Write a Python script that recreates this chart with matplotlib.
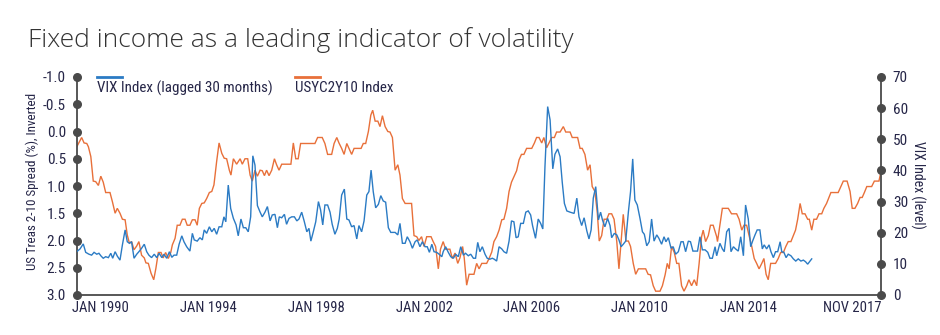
import matplotlib
matplotlib.use("Agg")
import matplotlib.pyplot as plt
from matplotlib.lines import Line2D

# ---------------- data ----------------
# USYC2Y10 Index (US Treasury 2-10 spread, %, plotted inverted on the left axis)
spread_dates = [
    1989.14, 1989.32, 1989.41, 1989.51, 1989.57, 1989.66, 1989.75, 1989.84, 1989.94,
    1990.03, 1990.12, 1990.21, 1990.37, 1990.46, 1990.56, 1990.64, 1990.74, 1990.83, 1990.93,
    1991.01, 1991.09, 1991.17, 1991.26, 1991.36, 1991.44, 1991.54, 1991.64, 1991.70, 1991.79, 1991.89, 1991.99,
    1992.07, 1992.16, 1992.26, 1992.34, 1992.43, 1992.53, 1992.62, 1992.68, 1992.78, 1992.86, 1992.96,
    1993.05, 1993.15, 1993.23, 1993.33, 1993.42, 1993.52, 1993.60, 1993.68, 1993.77, 1993.86, 1993.95,
    1994.05, 1994.14, 1994.22, 1994.32, 1994.41, 1994.51, 1994.60, 1994.69, 1994.79, 1994.85, 1994.94,
    1995.06, 1995.19, 1995.27, 1995.37, 1995.47, 1995.56, 1995.64, 1995.74, 1995.83, 1995.93,
    1996.01, 1996.09, 1996.17, 1996.26, 1996.36, 1996.46, 1996.54, 1996.63, 1996.73,
    1997.07, 1997.16, 1997.25, 1997.34, 1997.43, 1997.96,
    1998.06, 1998.23, 1998.33, 1998.43, 1998.58, 1998.67, 1998.77, 1998.85, 1998.95,
    1999.04, 1999.14, 1999.22, 1999.32, 1999.41, 1999.67, 1999.75, 1999.84, 1999.94,
    2000.03, 2000.10, 2000.19, 2000.29, 2000.37, 2000.46, 2000.56, 2000.66, 2000.74, 2000.83, 2000.93,
    2001.03, 2001.11, 2001.20, 2001.30, 2001.54, 2001.63, 2001.73, 2001.81, 2001.91,
    2002.00, 2002.10, 2002.26, 2002.34, 2002.43, 2002.53, 2002.61, 2002.71, 2002.80, 2002.96,
    2003.05, 2003.15, 2003.25, 2003.33, 2003.43, 2003.49, 2003.58, 2003.67, 2003.85, 2003.95,
    2004.04, 2004.14, 2004.32, 2004.42, 2004.51, 2004.59, 2004.69, 2004.78, 2004.88, 2004.96,
    2005.06, 2005.15, 2005.24, 2005.33, 2005.43, 2005.52, 2005.61, 2005.70, 2005.80, 2005.99,
    2006.09, 2006.17, 2006.26, 2006.36, 2006.44, 2006.54, 2006.63, 2006.73, 2006.83, 2006.91,
    2007.04, 2007.16, 2007.25, 2007.41, 2007.49, 2007.69, 2007.78, 2007.86, 2007.96,
    2008.06, 2008.15, 2008.23, 2008.33, 2008.42, 2008.49, 2008.58, 2008.67, 2008.77, 2008.85, 2008.95,
    2009.04, 2009.14, 2009.22, 2009.30, 2009.38, 2009.48, 2009.57, 2009.65, 2009.75, 2009.84, 2009.94,
    2010.21, 2010.30, 2010.39, 2010.49, 2010.58, 2010.74, 2010.83, 2010.93,
    2011.01, 2011.08, 2011.17, 2011.27, 2011.36, 2011.44, 2011.54, 2011.63, 2011.73, 2011.81, 2011.91,
    2012.01, 2012.10, 2012.19, 2012.28, 2012.34, 2012.43, 2012.53, 2012.61, 2012.71, 2012.84, 2012.87, 2012.96,
    2013.05, 2013.27, 2013.39, 2013.58, 2013.67, 2013.77, 2013.85, 2013.95,
    2014.04, 2014.14, 2014.23, 2014.32, 2014.41, 2014.51, 2014.59, 2014.67, 2014.75, 2014.84,
    2015.02, 2015.12, 2015.21, 2015.31, 2015.40, 2015.49, 2015.59, 2015.68, 2015.76, 2015.84, 2015.93,
    2016.01, 2016.11, 2016.21, 2016.27, 2016.36, 2016.44, 2016.54, 2016.63, 2016.73, 2016.81, 2016.91,
    2017.00, 2017.07, 2017.34, 2017.44, 2017.53, 2017.67, 2017.78, 2017.86, 2017.96,
    2018.06, 2018.15, 2018.23, 2018.31, 2018.40, 2018.58, 2018.68, 2018.85, 2018.91,
]
spread_values = [
    0.28, 0.11, 0.21, 0.22, 0.28, 0.46, 0.91, 0.92, 0.99,
    0.82, 0.93, 1.12, 1.12, 1.29, 1.50, 1.41, 1.50, 1.61, 1.62,
    1.90, 2.05, 2.02, 2.17, 2.10, 2.02, 2.27, 2.32, 2.41, 2.42, 2.60, 2.72,
    2.51, 2.22, 2.22, 2.32, 2.22, 2.33, 2.22, 2.08, 1.96, 1.72, 1.72,
    1.61, 1.61, 1.72, 1.72, 1.62, 1.62, 1.72, 1.41, 1.32, 1.31, 1.23,
    1.12, 1.10, 0.98, 0.55, 0.21, 0.40, 0.49, 0.50, 0.71, 0.80, 0.50,
    0.60, 0.50, 0.60, 0.50, 0.50, 0.80, 0.91, 0.71, 0.82, 0.71,
    0.72, 0.81, 0.71, 0.81, 0.71, 0.50, 0.61, 0.71, 0.60,
    0.60, 0.21, 0.50, 0.50, 0.22, 0.22,
    0.11, 0.11, 0.22, 0.42, 0.42, 0.22, 0.11, 0.21, 0.31,
    0.42, 0.22, 0.31, 0.42, 0.31, 0.31, 0.22, 0.22, 0.00,
    -0.30, -0.39, -0.19, -0.19, -0.09, -0.29, -0.09, 0.00, 0.01, 0.11, 0.71,
    0.61, 0.80, 1.23, 1.32, 1.32, 1.91, 1.93, 2.00, 1.93,
    2.11, 1.93, 1.93, 2.02, 2.11, 2.52, 2.16, 2.02, 2.16, 2.16,
    2.33, 2.23, 2.42, 2.32, 2.11, 2.32, 2.82, 2.62, 2.62, 2.42,
    2.52, 2.42, 2.42, 2.32, 2.21, 2.02, 1.93, 1.81, 1.62, 1.61,
    1.41, 1.10, 0.93, 0.83, 0.72, 0.52, 0.42, 0.42, 0.31, 0.31,
    0.21, 0.11, 0.11, 0.21, 0.11, 0.30, 0.21, 0.11, 0.11, 0.01,
    0.01, -0.09, 0.01, 0.01, 0.11, 0.11, 0.31, 0.31, 0.42,
    0.71, 0.61, 1.01, 1.10, 1.50, 2.01, 1.91, 1.61, 1.61, 1.51, 1.51,
    1.61, 2.02, 2.52, 2.02, 1.52, 2.01, 2.01, 2.11, 2.42, 2.62, 2.52,
    2.52, 2.62, 2.63, 2.83, 2.93, 2.93, 2.83, 2.63,
    2.42, 2.52, 2.11, 2.22, 2.42, 2.42, 2.83, 2.93, 2.83, 2.72, 2.83,
    2.72, 2.83, 2.42, 1.93, 1.81, 2.02, 1.91, 1.72, 1.72, 1.93, 2.02, 1.72,
    1.41, 1.41, 1.51, 1.51, 1.61, 1.81, 1.72, 1.72,
    1.91, 2.11, 2.33, 2.42, 2.52, 2.42, 2.33, 2.62, 2.72, 2.42,
    2.42, 2.33, 2.22, 2.22, 2.11, 2.02, 2.02, 1.91, 1.81, 1.61, 1.32,
    1.51, 1.51, 1.61, 1.61, 1.81, 1.61, 1.61, 1.51, 1.51, 1.41, 1.32,
    1.21, 1.12, 1.12, 1.01, 0.91, 0.91, 1.10, 1.41, 1.41,
    1.32, 1.21, 1.21, 1.12, 1.01, 1.01, 0.91, 0.91, 0.77,
]

# VIX Index, lagged 30 months (right axis)
vix_dates = [
    1989.14, 1989.26, 1989.38, 1989.47, 1989.59, 1989.69, 1989.78, 1989.88, 1989.96,
    1990.04, 1990.12, 1990.21, 1990.31, 1990.40, 1990.47, 1990.56, 1990.64, 1990.74, 1990.83, 1990.93,
    1991.01, 1991.09, 1991.17, 1991.26, 1991.36, 1991.44, 1991.54, 1991.64, 1991.73, 1991.81, 1991.91,
    1992.01, 1992.10, 1992.19, 1992.29, 1992.37, 1992.47, 1992.57, 1992.66, 1992.74, 1992.84, 1992.93,
    1993.03, 1993.11, 1993.21, 1993.33, 1993.42, 1993.49, 1993.60, 1993.70, 1993.79, 1993.86, 1993.95,
    1994.05, 1994.14, 1994.23, 1994.32, 1994.41, 1994.51, 1994.59, 1994.66, 1994.75, 1994.84, 1994.94,
    1995.04, 1995.12, 1995.22, 1995.31, 1995.40, 1995.49, 1995.58, 1995.66, 1995.74, 1995.83, 1995.93,
    1996.01, 1996.11, 1996.20, 1996.30, 1996.38, 1996.48, 1996.57, 1996.64, 1996.73, 1996.83, 1996.91,
    1997.00, 1997.10, 1997.20, 1997.29, 1997.37, 1997.47, 1997.56, 1997.66, 1997.74, 1997.81, 1997.90, 1997.99,
    1998.09, 1998.17, 1998.25, 1998.33, 1998.43, 1998.52, 1998.60, 1998.70, 1998.79, 1998.86, 1998.95,
    1999.05, 1999.14, 1999.22, 1999.32, 1999.41, 1999.51, 1999.59, 1999.69, 1999.78, 1999.88, 1999.96,
    2000.04, 2000.12, 2000.21, 2000.31, 2000.40, 2000.49, 2000.58, 2000.68, 2000.77, 2000.93,
    2001.03, 2001.11, 2001.20, 2001.30, 2001.38, 2001.48, 2001.57, 2001.67, 2001.75, 2001.85, 2001.94,
    2002.04, 2002.12, 2002.20, 2002.29, 2002.37, 2002.47, 2002.56, 2002.66, 2002.71, 2002.80, 2002.90, 2002.99,
    2003.09, 2003.17, 2003.27, 2003.36, 2003.46, 2003.54, 2003.64, 2003.73, 2003.83, 2003.91, 2003.99,
    2004.07, 2004.16, 2004.26, 2004.34, 2004.44, 2004.53, 2004.60, 2004.69, 2004.78, 2004.88, 2004.96,
    2005.06, 2005.15, 2005.24, 2005.33, 2005.41, 2005.49, 2005.58, 2005.68, 2005.77, 2005.86, 2005.95,
    2006.02, 2006.13, 2006.23, 2006.32, 2006.40, 2006.48, 2006.58, 2006.67, 2006.77, 2006.85, 2006.95,
    2007.04, 2007.12, 2007.20, 2007.29, 2007.41, 2007.56, 2007.66, 2007.74, 2007.84, 2007.93,
    2008.03, 2008.11, 2008.19, 2008.27, 2008.36, 2008.46, 2008.54, 2008.61, 2008.70, 2008.80, 2008.89, 2008.95,
    2009.05, 2009.14, 2009.22, 2009.30, 2009.38, 2009.47, 2009.57, 2009.65, 2009.73, 2009.81, 2009.90,
    2010.00, 2010.09, 2010.16, 2010.25, 2010.34, 2010.43, 2010.52, 2010.62, 2010.70, 2010.80, 2010.89, 2010.96,
    2011.05, 2011.15, 2011.23, 2011.32, 2011.42, 2011.52, 2011.60, 2011.69, 2011.79, 2011.87, 2011.96,
    2012.13, 2012.22, 2012.31, 2012.41, 2012.51, 2012.59, 2012.68, 2012.78, 2012.84, 2012.96,
    2013.05, 2013.12, 2013.21, 2013.30, 2013.37, 2013.46, 2013.54, 2013.64, 2013.73, 2013.83, 2013.91,
    2014.01, 2014.10, 2014.17, 2014.26, 2014.34, 2014.44, 2014.53, 2014.60, 2014.69, 2014.78, 2014.85, 2014.94,
    2015.02, 2015.10, 2015.19, 2015.25, 2015.33, 2015.41, 2015.49, 2015.59, 2015.68, 2015.77, 2015.86, 2015.96,
    2016.05, 2016.13, 2016.21, 2016.30, 2016.36,
]
vix_values = [
    13.9, 14.8, 16.4, 13.7, 13.1, 12.8, 13.7, 13.1, 13.4,
    12.5, 11.8, 12.3, 12.0, 13.4, 11.8, 13.9, 12.5, 11.2, 16.1, 20.9,
    17.1, 16.6, 17.1, 11.8, 13.1, 13.9, 15.0, 16.3, 13.9, 12.8, 12.0,
    13.1, 12.0, 13.4, 12.0, 13.1, 11.8, 13.9, 12.1, 12.8, 12.8, 16.3,
    19.0, 17.1, 15.5, 14.1, 19.8, 17.7, 17.3, 18.4, 17.7, 20.9, 19.8,
    21.9, 20.3, 21.4, 19.5, 21.9, 21.9, 25.1, 23.5, 35.3, 27.8, 24.6,
    22.5, 19.0, 24.4, 21.6, 21.6, 20.3, 25.1, 44.7, 41.7, 28.7, 26.6,
    25.1, 26.6, 28.4, 23.8, 25.7, 25.9, 21.6, 25.1, 24.8, 25.9, 22.7,
    24.6, 25.1, 25.1, 23.8, 24.4, 26.6, 23.8, 20.3, 21.4, 17.3, 20.3, 23.5,
    30.0, 27.3, 22.5, 28.9, 28.9, 26.6, 22.7, 19.5, 21.4, 24.4, 32.1,
    34.0, 24.4, 24.1, 21.9, 22.3, 18.0, 22.3, 20.3, 23.8, 32.1, 33.2,
    40.1, 33.2, 28.0, 29.1, 31.9, 30.2, 29.8, 21.6, 20.1, 20.1,
    19.3, 23.0, 16.6, 16.6, 18.7, 17.1, 15.0, 17.1, 17.7, 15.5, 17.1,
    15.5, 15.5, 13.7, 16.3, 13.9, 13.7, 13.1, 12.3, 13.9, 15.5, 13.7, 12.3,
    11.8, 13.1, 12.3, 15.5, 12.8, 13.4, 12.6, 13.1, 11.8, 11.8, 16.9,
    13.9, 15.5, 13.1, 11.8, 11.5, 11.8, 11.5, 10.9, 15.5, 14.8, 13.9,
    13.4, 17.3, 23.8, 23.5, 18.4, 18.7, 23.0, 23.0, 26.6, 27.0, 25.7,
    22.3, 18.2, 24.4, 23.0, 21.2, 41.2, 60.5, 56.2, 40.5, 45.2, 46.9,
    44.4, 36.2, 29.4, 27.0, 26.6, 26.2, 31.1, 25.1, 22.3, 24.8,
    20.6, 18.0, 20.9, 31.1, 34.8, 24.1, 26.6, 24.1, 21.9, 24.6, 22.3, 18.4,
    19.8, 19.3, 17.7, 15.5, 16.3, 17.3, 26.7, 33.2, 43.7, 30.5, 28.9,
    24.6, 20.3, 19.5, 15.8, 17.1, 24.4, 17.3, 19.3, 18.2, 16.3, 18.7, 17.1,
    18.4, 15.0, 15.5, 13.1, 13.9, 17.1, 17.1, 13.9, 17.3, 17.1, 14.1,
    14.1, 18.7, 14.5, 14.5, 13.7, 11.8, 11.8, 15.5, 12.6, 16.6,
    14.8, 13.9, 20.3, 21.4, 13.9, 15.5, 14.8, 14.1, 18.7, 12.6, 28.9,
    24.4, 15.5, 17.3, 19.3, 20.9, 20.9, 14.8, 16.1, 14.8, 16.1, 13.9, 12.0,
    13.9, 13.9, 17.1, 13.9, 13.7, 12.0, 13.1, 12.6, 11.6, 10.9, 11.6, 10.9,
    11.2, 10.7, 9.9, 10.9, 11.6,
]

spread_ticks = [-1.0, -0.5, 0.0, 0.5, 1.0, 1.5, 2.0, 2.5, 3.0]
vix_ticks = [0, 10, 20, 30, 40, 50, 60, 70]
x_tick_positions = [1990.0, 1994.0, 1998.0, 2002.0, 2006.0, 2010.0, 2014.0, 2017.87]
x_tick_labels = ["JAN 1990", "JAN 1994", "JAN 1998", "JAN 2002",
                 "JAN 2006", "JAN 2010", "JAN 2014", "NOV 2017"]

# ---------------- style ----------------
ORANGE = "#E8703A"
BLUE = "#2B7BC4"
AXIS = "#4a4a4a"
TEXT = "#262648"
NARROW = ["Roboto Condensed", "DejaVu Sans Condensed", "Liberation Sans Narrow", "Roboto"]

W, H = 940, 335
fig = plt.figure(figsize=(W / 100, H / 100), dpi=100)
fig.patch.set_facecolor("white")

L, R, T, B = 77, 881, 77, 295
ax = fig.add_axes([L / W, 1 - B / H, (R - L) / W, (B - T) / H])
ax2 = ax.twinx()

ax.plot(spread_dates, spread_values, color=ORANGE, lw=1.0, solid_joinstyle="miter")
ax2.plot(vix_dates, vix_values, color=BLUE, lw=1.0, solid_joinstyle="miter")

ax.set_xlim(1989.148, 2018.926)
ax.set_ylim(3.0, -1.0)
ax2.set_ylim(0, 70)

for a in (ax, ax2):
    a.spines["top"].set_visible(False)
    for s in a.spines.values():
        s.set_color(AXIS)
        s.set_linewidth(1.3)
ax.spines["right"].set_visible(False)
ax2.spines["left"].set_visible(False)
ax2.spines["bottom"].set_visible(False)

ax.set_yticks(spread_ticks)
ax.set_yticklabels([f"{v:.1f}" for v in spread_ticks])
ax2.set_yticks(vix_ticks)
ax2.set_yticklabels([str(v) for v in vix_ticks])
ax.set_xticks(x_tick_positions)
ax.set_xticklabels(x_tick_labels)

ax.tick_params(axis="y", length=0, pad=8, labelsize=11, labelcolor=TEXT)
ax2.tick_params(axis="y", length=0, pad=8.5, labelsize=11, labelcolor=TEXT)
ax.tick_params(axis="x", length=0, pad=4, labelsize=10.5, labelcolor=TEXT)
for lab in ax.get_xticklabels() + ax.get_yticklabels() + ax2.get_yticklabels():
    lab.set_family(NARROW)

# tick dots on both vertical axes
ax.scatter([0] * len(spread_ticks), spread_ticks, s=30, color=AXIS,
           transform=ax.get_yaxis_transform(), clip_on=False, zorder=6)
ax2.scatter([1] * len(vix_ticks), vix_ticks, s=30, color=AXIS,
            transform=ax2.get_yaxis_transform(), clip_on=False, zorder=6)

# axis titles
fig.text(32 / W, 1 - 181 / H, "US Treas 2-10 Spread (%), Inverted", rotation=90,
         ha="center", va="center", fontsize=9.4, color=TEXT, family=NARROW)
fig.text(918 / W, 1 - 185 / H, "VIX Index (level)", rotation=270,
         ha="center", va="center", fontsize=9.9, color=TEXT, family=NARROW)

# title
fig.text(28 / W, 1 - 40 / H, "Fixed income as a leading indicator of volatility",
         ha="left", va="center", fontsize=19, color="#333333",
         family=["Open Sans", "DejaVu Sans"], weight="light")

# legend (line above text)
legend_items = [("VIX Index (lagged 30 months)", BLUE, 97),
                ("USYC2Y10 Index", ORANGE, 295)]
for label, col, x0 in legend_items:
    fig.add_artist(Line2D([x0 / W, (x0 + 25) / W], [1 - 77 / H, 1 - 77 / H],
                          color=col, lw=2.0, transform=fig.transFigure))
    fig.text(x0 / W, 1 - 88 / H, label, ha="left", va="center", fontsize=10.8,
             color=TEXT, family=NARROW)

fig.savefig("out.png", dpi=100, facecolor="white")
